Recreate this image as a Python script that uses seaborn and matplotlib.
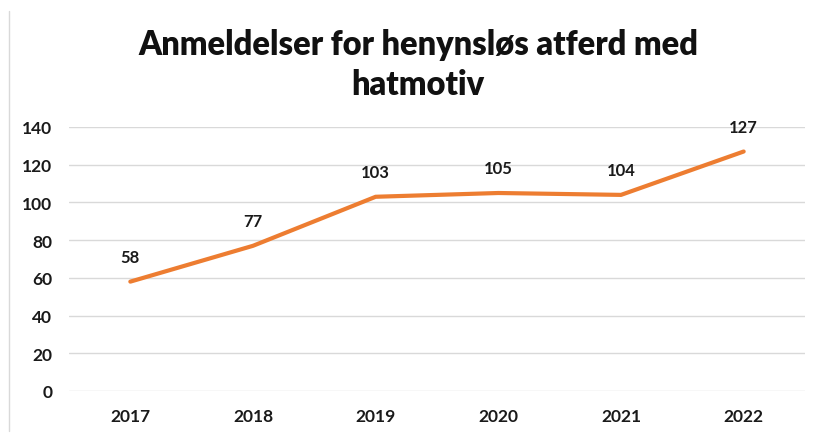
import matplotlib
matplotlib.use("Agg")
import matplotlib.pyplot as plt
import seaborn as sns
import pandas as pd
from matplotlib.lines import Line2D

# data
years = ["2017", "2018", "2019", "2020", "2021", "2022"]
reports = [58, 77, 103, 105, 104, 127]

df = pd.DataFrame({"year": years, "reports": reports})

sns.set_theme(style="white")
plt.rcParams["font.family"] = ["Lato", "DejaVu Sans"]

fig = plt.figure(figsize=(8.18, 4.35), dpi=100)
ax = fig.add_axes([69 / 818, 1 - 392 / 435, (805 - 69) / 818, (392 - 128) / 435])

sns.lineplot(data=df, x="year", y="reports", ax=ax, color="#ED7D31",
             linewidth=3, sort=False)

# value labels above each point
for i, v in enumerate(reports):
    ax.annotate(str(v), (i, v), xytext=(0, 18), textcoords="offset points",
                ha="center", va="center", fontsize=12, fontweight="bold",
                color="#1a1a1a")

ax.set_xlim(-0.5, 5.5)
ax.set_ylim(0, 140)
ax.set_yticks(range(0, 141, 20))
ax.yaxis.grid(True, color="#d9d9d9", linewidth=1)
ax.set_axisbelow(True)
for s in ax.spines.values():
    s.set_visible(False)
ax.set_xlabel("")
ax.set_ylabel("")
ax.tick_params(axis="both", length=0, labelsize=12.5, labelcolor="#1a1a1a")
ax.tick_params(axis="y", pad=12)
ax.tick_params(axis="x", pad=12)
for lab in ax.get_xticklabels() + ax.get_yticklabels():
    lab.set_fontweight("bold")

fig.text(418 / 818, 1 - 65 / 435, "Anmeldelser for henynsløs atferd med\nhatmotiv",
         ha="center", va="center", fontsize=23.5, fontweight="heavy",
         color="#111111", linespacing=1.3)

# thin frame line on the left like in the source image
fig.add_artist(Line2D([9 / 818, 9 / 818], [1 - 432 / 435, 1 - 12 / 435],
                      transform=fig.transFigure, color="#d9d9d9", linewidth=1))

fig.savefig("out.png", dpi=100)
